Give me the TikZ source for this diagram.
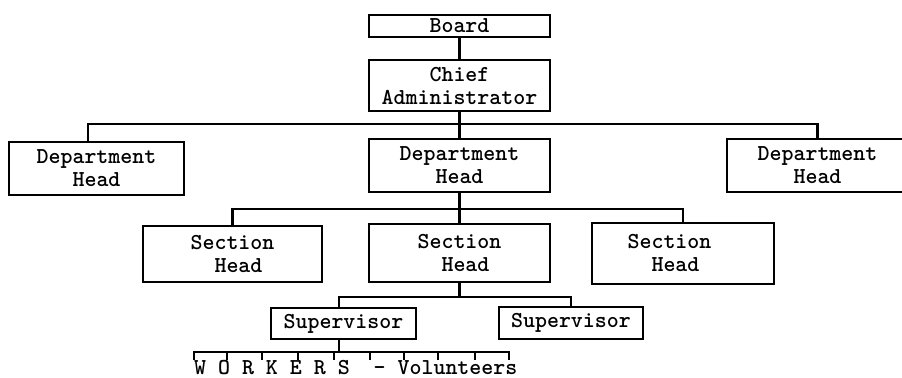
\documentclass[tikz,border=0pt]{standalone}
\usetikzlibrary{calc}
\begin{document}
\begin{tikzpicture}[x=0.5pt,y=-0.5pt,
  line width=1.15pt,
  txt/.style={font=\fontsize{11.4}{11.5}\selectfont\ttfamily\bfseries},
  box/.style={draw, txt, inner sep=0pt, align=center},
  sect/.style={box, align=left},
]
\path[use as bounding box, clip] (0,0) rectangle (902,378);

% top of the organisation
\node[box, minimum width=90.5pt, minimum height=11pt] (board) at (459.5,26) {Board};
\node[box, minimum width=90.5pt, minimum height=25.5pt] (chief) at (459.5,85.5) {Chief\\Administrator};

% department heads
\node[box, minimum width=87.5pt, minimum height=26.5pt] (dl) at (96.5,168.5) {Department\\Head};
\node[box, minimum width=90.5pt, minimum height=26.5pt] (dm) at (459.5,165.5) {Department\\Head};
\node[box, minimum width=90.5pt, minimum height=26.5pt] (dr) at (817.5,165.5) {Department\\Head};

% section heads
\node[sect, minimum width=89.5pt, minimum height=28pt] (sl) at (232.5,254) {Section\\\phantom{Se}Head};
\node[sect, minimum width=90.5pt, minimum height=29pt] (sm) at (459.5,253) {Section\\\phantom{Se}Head};
\node[sect, minimum width=91pt, minimum height=30.5pt] (sr) at (683,253.5) {Section\makebox[13.5pt]{}\\\phantom{Se}Head};

% supervisors
\node[box, minimum width=72.5pt, minimum height=15.5pt] (supl) at (343.5,323.5) {Supervisor};
\node[box, minimum width=72pt, minimum height=16pt] (supr) at (571,323) {Supervisor};

% workers line
\node[txt, anchor=base west, inner sep=0pt] (workers) at (193,375) {W O R K E R S\ \ - Volunteers};

% connectors
\draw (board.south) -- (chief.north);

\coordinate (dbar) at (459.5,124);
\draw (chief.south) -- (dm.north);
\draw ([xshift=-4.25pt]dl.north) |- (dbar) -| (dr.north);

\coordinate (sbar) at (459.5,209);
\draw (dm.south) -- (sm.north);
\draw (sl.north) |- (sbar) -| (sr.north);

\coordinate (pbar) at (459.5,297);
\draw (sm.south) -- (sm.south |- pbar);
\draw ([xshift=-2.25pt]supl.north) |- (pbar) -| (supr.north);

\coordinate (wbar) at (339,352);
\draw (wbar |- supl.south) -- (wbar);
\foreach \i/\x in {1/194,2/227,3/262,4/298,5/334,6/370,7/404,8/438,9/475,10/509}
  \coordinate (t\i) at (\x,360);
\draw (t1) -- (t1 |- wbar) -- (t10 |- wbar) -- (t10);
\foreach \i in {2,...,9} \draw (t\i) -- (t\i |- wbar);
\end{tikzpicture}
\end{document}
